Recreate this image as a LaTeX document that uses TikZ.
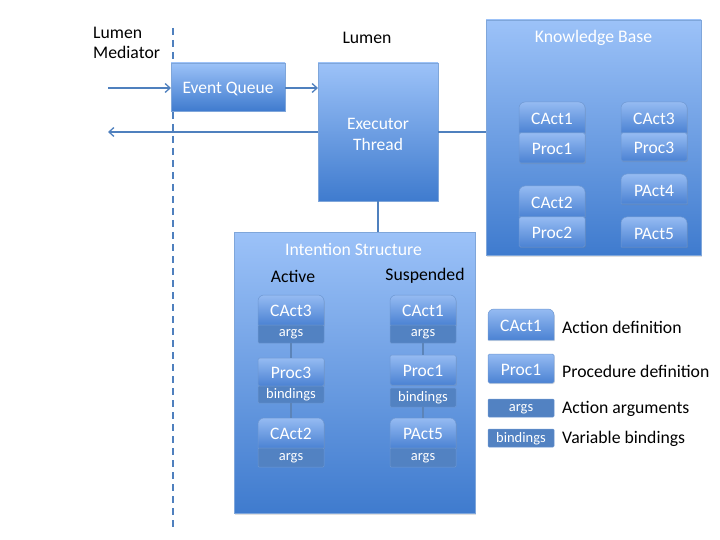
\documentclass[tikz,border=0pt]{standalone}
\usepackage{fontspec}
\setmainfont{Carlito}
\usetikzlibrary{arrows.meta,shadows}
\definecolor{bigtop}{HTML}{9CC2F8}
\definecolor{bigbot}{HTML}{3F7BCE}
\definecolor{bigedge}{HTML}{7FA6DA}
\definecolor{smtop}{HTML}{95BBF2}
\definecolor{smbot}{HTML}{4B82D3}
\definecolor{smedge}{HTML}{6E98D2}
\definecolor{argfill}{HTML}{5282C2}
\definecolor{linec}{HTML}{4F80BE}
\definecolor{conc}{HTML}{5C84B8}
\newcommand\fsz[2]{\fontsize{#1}{#2}\selectfont}
\tikzset{
  bigbox/.style={draw=bigedge, line width=0.6pt, top color=bigtop, bottom color=bigbot,
     drop shadow={opacity=0.25, shadow xshift=1pt, shadow yshift=-1.5pt}},
  smallbox/.style={draw=smedge, line width=0.5pt, top color=smtop, bottom color=smbot,
     drop shadow={opacity=0.2, shadow xshift=0.8pt, shadow yshift=-1.2pt}},
  boxlbl/.style={text=white, font=\fsz{17.5}{21}, inner sep=0pt},
  arglbl/.style={text=white, font=\fsz{14.5}{17}, inner sep=0pt},
  blk/.style={text=black, font=\fsz{17.7}{20}, inner sep=0pt},
  ttl/.style={text=white, font=\fsz{17.7}{20}, inner sep=0pt},
  argbox/.style={draw=smedge, line width=0.5pt, fill=argfill},
  flow/.style={draw=linec, line width=1.3pt},
  flowarr/.style={flow, -{Straight Barb[length=5pt,width=9pt]}},
  con/.style={draw=conc, line width=1.5pt},
}
\newcommand\actshape[4]{%
  \path[smallbox] (#1,#4) [rounded corners=6pt] -- (#1,#2) -- (#3,#2) [sharp corners] -- (#3,#4) -- cycle;}
\newcommand\procshape[4]{%
  \path[smallbox, rounded corners=1.5pt] (#1,#2) rectangle (#3,#4);}
\newcommand\argshape[4]{%
  \path[argbox, rounded corners=1pt] (#1,#2) rectangle (#3,#4);}
\begin{document}
\begin{tikzpicture}[x=1pt,y=-1pt]
\useasboundingbox (0,0) rectangle (720,540);
% dashed separator
\coordinate (dtop) at (173,28);
\coordinate (dbot) at (173,530);
\draw[linec, line width=1.5pt, dash pattern=on 7pt off 5pt] (dtop) -- (dbot);

\node[blk, align=left, anchor=north west] (med) at (93,27) {Lumen\\Mediator};
\node[blk] (lumen) at (367,38) {Lumen};

% knowledge base
\path[bigbox] (486,20) rectangle (701,255);
\node[ttl] (kb) at (593.5,38) {Knowledge Base};
\coordinate (kbl) at (486,132);

% event queue
\path[bigbox] (171,63) rectangle (285,111);
\node[text=white, font=\fsz{17.5}{21}, inner sep=0pt] (eq) at (228,89) {Event Queue};
% executor
\path[bigbox] (318,63) rectangle (438,201);
\node[text=white, font=\fsz{17.5}{21}, align=center, inner sep=0pt] (ex) at (378,134) {Executor\\Thread};

% intention structure
\path[bigbox] (234,232) rectangle (475,513);
\node[ttl] (is) at (353.5,249) {Intention Structure};
\node[blk] (active) at (293,276) {Active};
\node[blk] (susp) at (425,276) {Suspended};

% flows
\coordinate (inL) at (108,88);
\coordinate (eqL) at (171,88);
\coordinate (eqR) at (285,88);
\coordinate (exL) at (318,88);
\coordinate (exL2) at (318,132);
\coordinate (outL) at (108,132);
\coordinate (exR) at (438,132);
\coordinate (exB) at (378,201);
\coordinate (isT) at (378,232);
\draw[flowarr] (inL) -- (eqL);
\draw[flowarr] (eqR) -- (exL);
\draw[flowarr] (exL2) -- (outL);
\draw[flow] (exR) -- (kbl);
\draw[flow] (exB) -- (isT);

% KB contents
\actshape{519}{102}{585}{133}
\node[boxlbl] (kbc1) at (552,119) {CAct1};
\procshape{519}{133}{585}{163}
\node[boxlbl] (kbp1) at (552,149) {Proc1};
\actshape{621}{102}{687}{133}
\node[boxlbl] (kbc3) at (654,119) {CAct3};
\procshape{621}{133}{687}{161}
\node[boxlbl] (kbp3) at (654,148) {Proc3};
\actshape{519}{186}{585}{217}
\node[boxlbl] (kbc2) at (552,203) {CAct2};
\procshape{519}{217}{585}{247}
\node[boxlbl] (kbp2) at (552,233) {Proc2};
\actshape{621}{174}{687}{204}
\node[boxlbl] (kbpa4) at (654,191) {PAct4};
\actshape{621}{217}{687}{247}
\node[boxlbl] (kbpa5) at (654,234) {PAct5};

% active stack
\actshape{258}{295}{324}{325}
\node[boxlbl] (ac3) at (291,311) {CAct3};
\argshape{258}{325}{324}{343}
\node[arglbl] (aa1) at (291,334.5) {args};
\procshape{258}{358}{324}{386}
\node[boxlbl] (ap3) at (291,373) {Proc3};
\argshape{258}{386}{324}{403}
\node[arglbl] (ab1) at (291,395) {bindings};
\actshape{258}{418}{324}{448}
\node[boxlbl] (ac2) at (291,434) {CAct2};
\argshape{258}{448}{324}{467}
\node[arglbl] (aa2) at (291,458) {args};
\coordinate (a1b) at (291,343); \coordinate (a2t) at (291,358);
\coordinate (a2b) at (291,403); \coordinate (a3t) at (291,418);
\draw[con] (a1b) -- (a2t);
\draw[con] (a2b) -- (a3t);

% suspended stack
\actshape{390}{295}{456}{325}
\node[boxlbl] (sc1) at (423,311) {CAct1};
\argshape{390}{325}{456}{343}
\node[arglbl] (sa1) at (423,334.5) {args};
\procshape{390}{355}{456}{385}
\node[boxlbl] (sp1) at (423,371) {Proc1};
\argshape{390}{388}{456}{407}
\node[arglbl] (sb1) at (423,398) {bindings};
\actshape{390}{418}{456}{448}
\node[boxlbl] (spa5) at (423,434) {PAct5};
\argshape{390}{448}{456}{467}
\node[arglbl] (sa2) at (423,458) {args};
\coordinate (s1b) at (423,343); \coordinate (s2t) at (423,355);
\coordinate (s2b) at (423,407); \coordinate (s3t) at (423,418);
\draw[con] (s1b) -- (s2t);
\draw[con] (s2b) -- (s3t);

% legend
\actshape{488}{309}{554}{340}
\node[boxlbl] (lc) at (521,326) {CAct1};
\node[blk, anchor=west] (lct) at (562,327) {Action definition};
\procshape{488}{354}{554}{383}
\node[boxlbl] (lp) at (521,369.5) {Proc1};
\node[blk, anchor=west] (lpt) at (562,371) {Procedure definition};
\argshape{488}{399}{554}{417}
\node[arglbl] (la) at (521,409) {args};
\node[blk, anchor=west] (lat) at (562,409) {Action arguments};
\argshape{488}{429}{554}{447}
\node[arglbl] (lb) at (521,439) {bindings};
\node[blk, anchor=west] (lbt) at (562,439) {Variable bindings};
\end{tikzpicture}
\end{document}
